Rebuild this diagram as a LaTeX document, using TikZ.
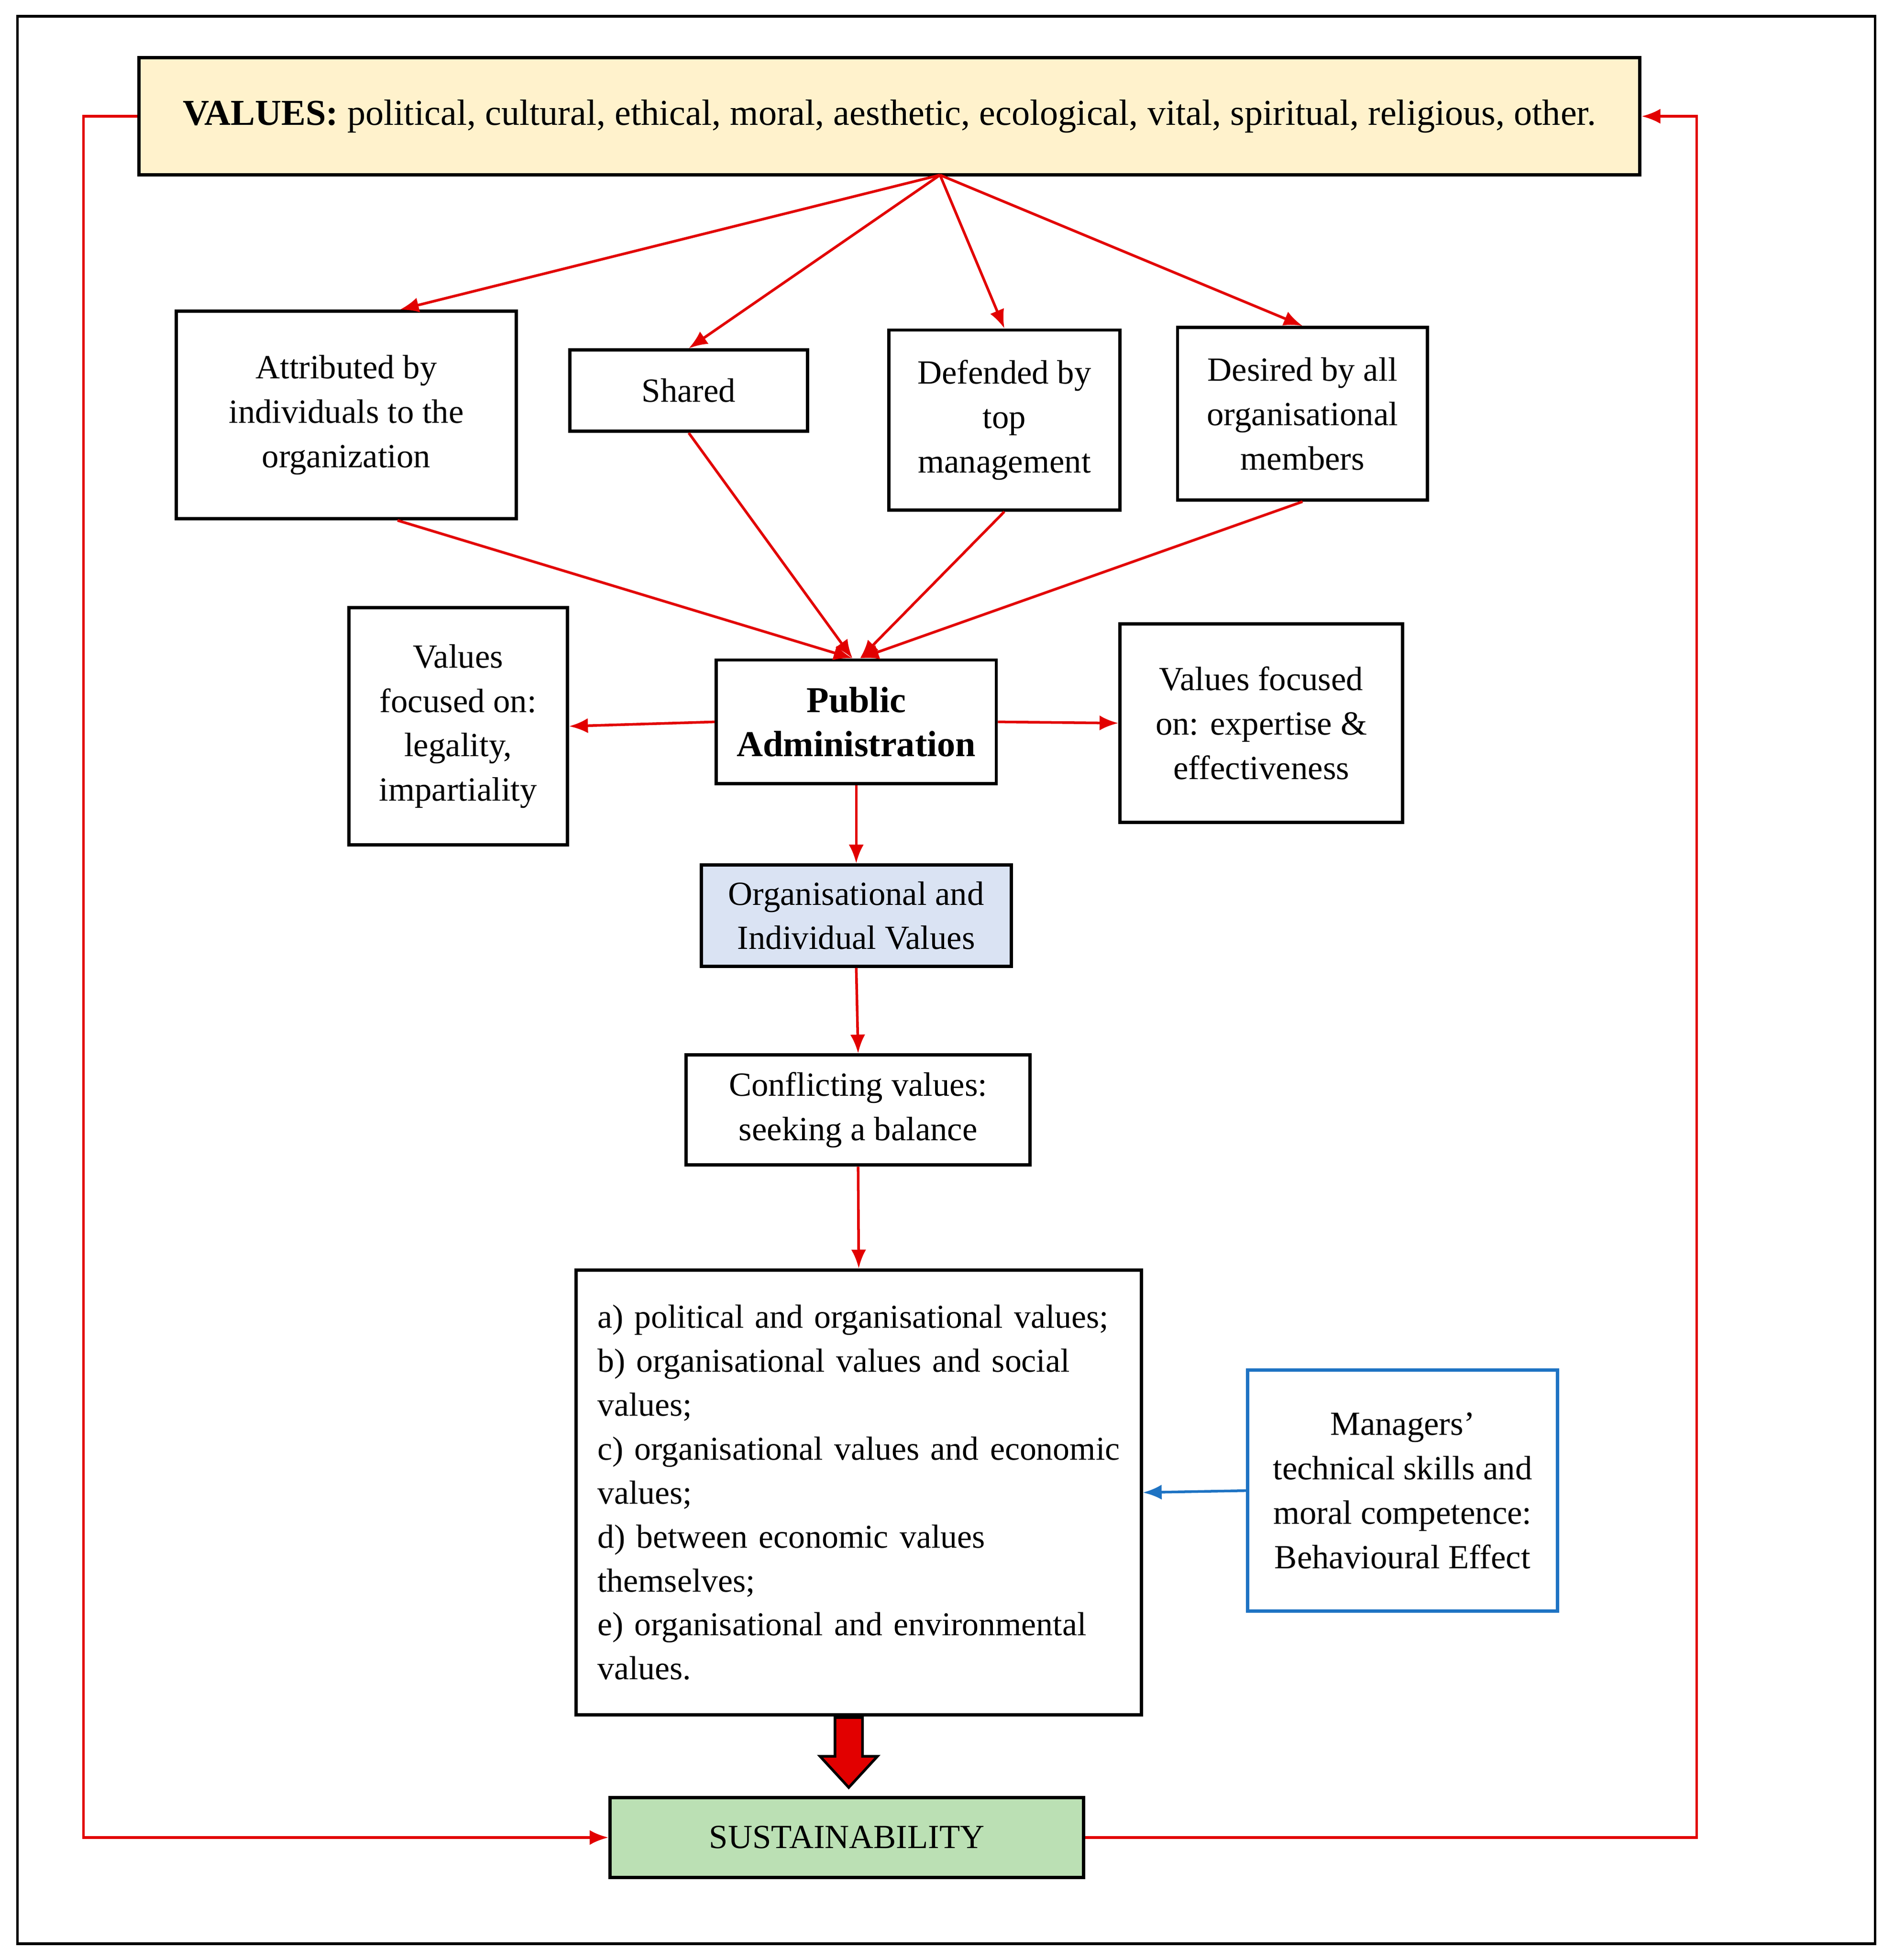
\documentclass[tikz,border=0pt]{standalone}
\usepackage{fontspec}
\setmainfont{Liberation Serif}
\usetikzlibrary{calc,arrows.meta,positioning}
\tikzset{>={Latex[length=1.5mm,width=1.2mm]}}
\definecolor{redline}{RGB}{226,0,0}
\definecolor{valuesfill}{RGB}{255,242,204}
\definecolor{orgfill}{RGB}{218,227,243}
\definecolor{sustfill}{RGB}{187,224,180}
\definecolor{mgrblue}{RGB}{30,115,195}
\tikzset{
  box/.style={draw=black,line width=0.75pt,inner sep=0pt,align=center,
    font=\fontsize{7.7}{10.1}\selectfont},
  link/.style={->,draw=redline,line width=0.6pt},
}

\begin{document}
\begin{tikzpicture}[x=0.1mm,y=-0.1mm]
        \useasboundingbox (0,0) rectangle (1515,1568);
        \draw[line width=0.6pt] (14,13) rectangle (1500,1555);

        % top row
        \node[box,fill=valuesfill,minimum width=120.1mm,minimum height=9.4mm,font=\fontsize{8.3}{10.1}\selectfont] (values) at (711.5,93)
            {\textbf{VALUES:} political, cultural, ethical, moral, aesthetic, ecological, vital, spiritual, religious, other.};
        \coordinate (fan) at (752,140);

        \node[box,minimum width=27.2mm,minimum height=16.6mm] (attr) at (277,332)
            {Attributed by\\ individuals to the\\ organization};
        \node[box,minimum width=19mm,minimum height=6.5mm] (shared) at (551,312.5) {Shared};
        \node[box,minimum width=18.5mm,minimum height=14.4mm] (defend) at (803.5,336)
            {Defended by\\ top\\ management};
        \node[box,minimum width=20mm,minimum height=13.8mm] (desire) at (1042,331)
            {Desired by all\\ organisational\\ members};

        % middle
        \node[box,minimum width=22.4mm,minimum height=9.9mm,font=\fontsize{8.3}{10.1}\selectfont\bfseries] (pa) at (685,577.5)
            {Public\\ Administration};
        \node[box,minimum width=17.5mm,minimum height=19mm] (legal) at (366.5,581)
            {Values\\ focused on:\\ legality,\\ impartiality};
        \node[box,minimum width=22.6mm,minimum height=15.9mm] (expert) at (1009,578.5)
            {Values focused\\ on: expertise \&\\ effectiveness};
        \node[box,fill=orgfill,minimum width=24.8mm,minimum height=8.1mm] (org) at (685,732.5)
            {Organisational and\\ Individual Values};
        \node[box,minimum width=27.5mm,minimum height=8.8mm] (confl) at (686.5,888)
            {Conflicting values:\\ seeking a balance};

        % bottom
        \node[box,minimum width=45.2mm,minimum height=35.6mm,text width=41.8mm,align=left,
              font=\fontsize{7.6}{10}\selectfont] (conf) at (687,1194)
            {a) political and organisational values;\\ b) organisational values and social\\ values;\\
             c) organisational values and economic\\ values;\\ d) between economic values\\ themselves;\\
             e) organisational and environmental\\ values.};
        \node[box,draw=mgrblue,minimum width=24.8mm,minimum height=19.3mm] (mgr) at (1122,1192.5)
            {Managers'\\ technical skills and\\ moral competence:\\ Behavioural Effect};
        \node[box,fill=sustfill,minimum width=37.9mm,minimum height=6.4mm] (sust) at (677.5,1470) {SUSTAINABILITY};

        % arrows
        \draw[link] (fan) -- ($(attr.north)+(43,0)$);
        \draw[link] (fan) -- (shared.north);
        \draw[link] (fan) -- (defend.north);
        \draw[link] (fan) -- (desire.north);
        \draw[link] ($(attr.south)+(41,0)$) -- ($(pa.north)+(-3,0)$);
        \draw[link] (shared.south) -- ($(pa.north)+(-3,0)$);
        \draw[link] (defend.south) -- ($(pa.north)+(3,0)$);
        \draw[link] (desire.south) -- ($(pa.north)+(3,0)$);
        \draw[link] (pa.west) -- (legal.east);
        \draw[link] (pa.east) -- (expert.west);
        \draw[link] (pa.south) -- (org.north);
        \draw[link] (org.south) -- (confl.north);
        \draw[link] (confl.south) -- (conf.north);
        \draw[link,draw=mgrblue] (mgr.west) -- (conf.east);
        \draw[link] (values.west) -- ++(-43,0) |- (sust.west);
        \draw[link] (sust.east) -- ++(489,0) |- (values.east);

        \draw[fill=redline,line width=0.6pt] (668,1374) -- (690,1374) -- (690,1405) -- (702,1405)
            -- (679,1430) -- (656,1405) -- (668,1405) -- cycle;
    \end{tikzpicture}
\end{document}
